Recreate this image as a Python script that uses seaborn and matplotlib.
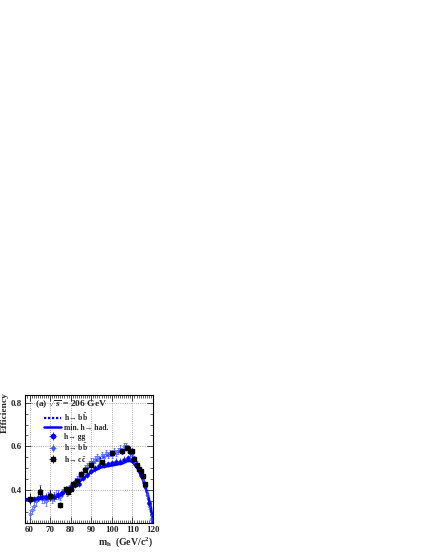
import matplotlib
matplotlib.use("Agg")
import matplotlib.pyplot as plt
import seaborn as sns
import numpy as np
import pandas as pd
from matplotlib.ticker import MultipleLocator

sns.set_theme(style="ticks")
plt.rcParams['font.family'] = ['Liberation Serif', 'DejaVu Serif']
plt.rcParams['font.weight'] = 'bold'
plt.rcParams['mathtext.fontset'] = 'custom'
plt.rcParams['mathtext.rm'] = 'Liberation Serif:bold'
plt.rcParams['mathtext.it'] = 'Liberation Serif:italic:bold'
plt.rcParams['mathtext.bf'] = 'Liberation Serif:bold'

# ---- data ----
# h -> bb (open markers, 1 GeV steps)
bb_x = list(range(60, 120))
bb_y = [0.29, 0.31, 0.33, 0.35, 0.37, 0.40, 0.36, 0.36, 0.35, 0.37,
        0.38, 0.36, 0.37, 0.38, 0.38, 0.37, 0.39, 0.40, 0.39, 0.41,
        0.42, 0.42, 0.44, 0.45, 0.46, 0.47, 0.48, 0.50, 0.51, 0.52,
        0.53, 0.53, 0.54, 0.55, 0.54, 0.56, 0.55, 0.57, 0.56, 0.57,
        0.56, 0.58, 0.57, 0.58, 0.59, 0.58, 0.60, 0.60, 0.59, 0.57,
        0.56, 0.54, 0.52, 0.50, 0.48, 0.45, 0.42, 0.38, 0.33, 0.27]
bb_err = [0.02, 0.02, 0.02, 0.02, 0.02, 0.025, 0.02, 0.02, 0.02, 0.02,
          0.02, 0.02, 0.02, 0.02, 0.02, 0.015, 0.015, 0.015, 0.015, 0.015,
          0.015, 0.015, 0.015, 0.015, 0.015, 0.015, 0.015, 0.015, 0.015, 0.015,
          0.015, 0.015, 0.015, 0.015, 0.015, 0.015, 0.015, 0.015, 0.015, 0.015,
          0.015, 0.015, 0.015, 0.015, 0.015, 0.015, 0.015, 0.015, 0.015, 0.015,
          0.015, 0.015, 0.015, 0.015, 0.015, 0.015, 0.015, 0.015, 0.015, 0.015]

# h -> gg (filled blue circles)
gg_x = list(range(60, 120, 2))
gg_y = [0.355, 0.36, 0.365, 0.37, 0.37, 0.38, 0.37, 0.38, 0.385, 0.40,
        0.41, 0.425, 0.43, 0.455, 0.47, 0.49, 0.50, 0.51, 0.515, 0.52,
        0.525, 0.53, 0.53, 0.54, 0.545, 0.54, 0.51, 0.47, 0.42, 0.34]
gg_err = [0.015] * len(gg_x)

# h -> cc (black squares)
cc_x = [60, 65, 70, 75, 77.5, 78.5, 80, 81, 82, 83, 85, 87, 90, 95, 100,
        105, 107.5, 109, 110, 111, 112, 113, 114, 115, 116]
cc_y = [0.36, 0.39, 0.375, 0.332, 0.407, 0.392, 0.405, 0.43, 0.43, 0.443,
        0.476, 0.493, 0.516, 0.528, 0.572, 0.578, 0.595, 0.58, 0.58, 0.543,
        0.516, 0.496, 0.49, 0.467, 0.428]
cc_err = [0.025, 0.03, 0.025, 0.015, 0.012, 0.012, 0.012, 0.012, 0.012, 0.012,
          0.012, 0.012, 0.012, 0.012, 0.012, 0.012, 0.012, 0.02, 0.012, 0.012,
          0.012, 0.012, 0.012, 0.012, 0.012]

# dotted fit h -> bb
fit_x = [58, 60, 65, 70, 75, 80, 85, 90, 95, 100, 105, 108, 110, 113, 116, 118, 120]
fit_y = [0.36, 0.36, 0.365, 0.37, 0.385, 0.42, 0.46, 0.52, 0.55, 0.565,
         0.58, 0.585, 0.565, 0.51, 0.43, 0.35, 0.25]

# solid line: min. h -> had.
min_x = [58, 60, 65, 70, 75, 80, 85, 90, 95, 100, 105, 108, 110, 112.5, 115, 117.5, 119, 120]
min_y = [0.355, 0.36, 0.36, 0.36, 0.375, 0.415, 0.445, 0.483, 0.505, 0.513,
         0.522, 0.535, 0.53, 0.50, 0.45, 0.38, 0.32, 0.25]

labels = ['h\u2192 b$\\bar{\\rm b}$', 'min. h\u2192 had.',
          'h\u2192 gg', 'h\u2192 b$\\bar{\\rm b}$',
          'h\u2192 c$\\bar{\\rm c}$']

BLUE = (0.0, 0.0, 1.0)
LBLUE = (0.25, 0.35, 1.0)

fig = plt.figure(figsize=(4.27, 5.53), dpi=100)
ax = fig.add_axes([0.0585, 0.0542, 0.2998, 0.2315])

ax.grid(True, which='major', linestyle=':', color='0.55', lw=0.6)

fit_df = pd.DataFrame({'x': fit_x, 'y': fit_y})
min_df = pd.DataFrame({'x': min_x, 'y': min_y})
sns.lineplot(data=fit_df, x='x', y='y', ax=ax, color=BLUE, lw=1.6,
             linestyle=(0, (1, 0.8)), legend=False)
sns.lineplot(data=min_df, x='x', y='y', ax=ax, color=BLUE, lw=1.8, legend=False)
line_handles = list(ax.get_lines()[:2])

ax.errorbar(bb_x, bb_y, yerr=bb_err, fmt='o', ms=2.0, mfc='none', mec=LBLUE,
            mew=0.5, ecolor=LBLUE, elinewidth=0.5, capsize=0.8)
ax.errorbar(gg_x, gg_y, yerr=gg_err, fmt='o', ms=2.3, color=BLUE,
            elinewidth=0.5, capsize=0)
ax.errorbar(cc_x, cc_y, yerr=cc_err, fmt='s', ms=3.0, color='black',
            elinewidth=0.6, capsize=0)

# legend proxies (cross-shaped error bar handles)
p_gg = ax.errorbar([np.nan], [np.nan], xerr=[1], yerr=[1], fmt='o', ms=3.0,
                   color=BLUE, elinewidth=0.6)
p_bb = ax.errorbar([np.nan], [np.nan], xerr=[1], yerr=[1], fmt='*', ms=3.0,
                   color=LBLUE, elinewidth=0.6)
p_cc = ax.errorbar([np.nan], [np.nan], xerr=[1], yerr=[1], fmt='s', ms=3.4,
                   color='black', elinewidth=0.6)

ax.set_xlim(57.8, 120)
ax.set_ylim(0.25, 0.835)
ax.set_yticks([0.4, 0.6, 0.8])
ax.set_yticklabels(['0.4', '0.6', '0.8'])
ax.xaxis.set_major_locator(MultipleLocator(10))
ax.xaxis.set_minor_locator(MultipleLocator(1))
ax.yaxis.set_minor_locator(MultipleLocator(0.05))
ax.tick_params(which='both', direction='in', top=True, right=True, labelsize=6.5, pad=2)
ax.tick_params(which='major', length=4, width=0.6)
ax.tick_params(which='minor', length=2, width=0.5)
for s in ax.spines.values():
    s.set_linewidth(0.8)
    s.set_color('black')

ax.set_ylabel('')
ax.set_xlabel(r'm$_{\rm h}$  (GeV/c$^{2}$)', loc='right', fontsize=7, fontweight='bold', labelpad=1)
fig.text(4.5 / 427, 1 - 392 / 553, 'Efficiency', rotation=90, ha='center', va='top',
         fontsize=6.8, fontweight='bold')

ax.text(0.082, 0.905, r'(a) $\sqrt{s}$ = 206 GeV', transform=ax.transAxes,
        ha='left', va='baseline', fontsize=6.8, fontweight='bold')

leg = ax.legend(handles=line_handles + [p_gg, p_bb, p_cc], labels=labels,
                fontsize=5.5, loc='upper left', bbox_to_anchor=(0.15, 0.872),
                frameon=False, handlelength=2.2, handletextpad=0.4,
                labelspacing=0.1, handleheight=0.8, borderpad=0, borderaxespad=0)

fig.savefig('out.png', dpi=100)
